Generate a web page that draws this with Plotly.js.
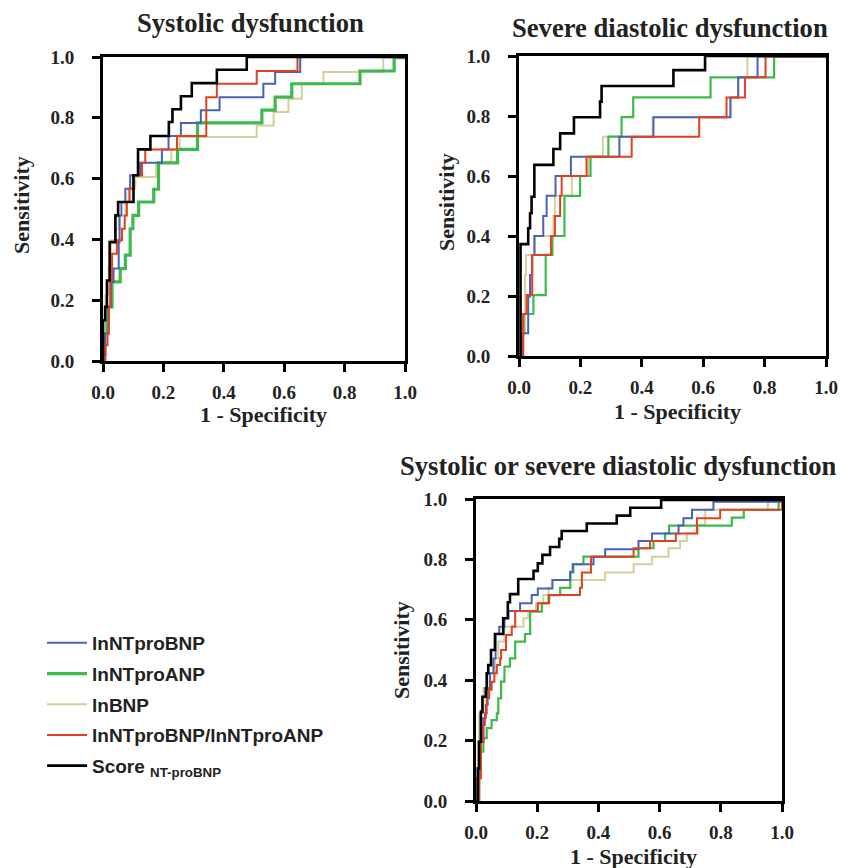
<!DOCTYPE html>
<html>
<head>
<meta charset="utf-8">
<script src="https://cdn.plot.ly/plotly-3.0.1.min.js"></script>
<style>html,body{margin:0;padding:0;background:#fff;}#chart{width:848px;height:868px;}</style>
</head>
<body>
<div id="chart"></div>
<script>
// ---------- Data (1 - specificity, sensitivity) ----------
const seriesNames = ['lnNTproBNP', 'lnNTproANP', 'lnBNP', 'lnNTproBNP/lnNTproANP', 'Score <sub>NT-proBNP</sub>'];
const seriesColors = ['#4a62b8', '#3dba4c', '#d6cf9c', '#e2401f', '#000000'];
const tickVals = [0, 0.2, 0.4, 0.6, 0.8, 1.0];
const tickText = ['0.0', '0.2', '0.4', '0.6', '0.8', '1.0'];
const panelTitles = ['Systolic dysfunction', 'Severe diastolic dysfunction', 'Systolic or severe diastolic dysfunction'];

// Panel 1: Systolic dysfunction
const sysBlueX = [0, 0, 0.008, 0.019, 0.026, 0.035, 0.052, 0.055, 0.061, 0.074, 0.090, 0.123, 0.195, 0.217, 0.258, 0.324, 0.386, 0.531, 0.570, 0.653, 1.0];
const sysBlueY = [0, 0.02, 0.090, 0.178, 0.260, 0.304, 0.391, 0.479, 0.523, 0.567, 0.611, 0.652, 0.696, 0.740, 0.783, 0.825, 0.868, 0.912, 0.951, 1.0, 1.0];
const sysGreenX = [0, 0, 0.004, 0.013, 0.030, 0.057, 0.074, 0.090, 0.099, 0.118, 0.168, 0.184, 0.247, 0.313, 0.526, 0.570, 0.625, 0.851, 0.964, 1.0];
const sysGreenY = [0, 0.02, 0.090, 0.178, 0.260, 0.304, 0.348, 0.435, 0.479, 0.523, 0.565, 0.652, 0.696, 0.783, 0.825, 0.868, 0.912, 0.954, 0.998, 1.0];
const sysTanX = [0, 0.002, 0.008, 0.019, 0.026, 0.041, 0.052, 0.074, 0.085, 0.107, 0.176, 0.226, 0.254, 0.509, 0.565, 0.614, 0.658, 0.730, 0.928, 1.0];
const sysTanY = [0, 0.134, 0.216, 0.309, 0.397, 0.435, 0.479, 0.523, 0.567, 0.605, 0.652, 0.696, 0.737, 0.775, 0.819, 0.863, 0.912, 0.951, 0.998, 1.0];
const sysRedX = [0.008, 0.008, 0.015, 0.019, 0.024, 0.030, 0.046, 0.063, 0.072, 0.079, 0.088, 0.101, 0.129, 0.140, 0.245, 0.342, 0.377, 0.509, 0.644, 1.0];
const sysRedY = [0, 0.052, 0.090, 0.178, 0.265, 0.353, 0.397, 0.435, 0.479, 0.523, 0.567, 0.611, 0.652, 0.696, 0.740, 0.868, 0.912, 0.954, 1.0, 1.0];
const sysBlackX = [0, 0, 0.007, 0.013, 0.022, 0.041, 0.050, 0.101, 0.116, 0.157, 0.218, 0.230, 0.258, 0.294, 0.377, 0.476, 1.0];
const sysBlackY = [0, 0.134, 0.178, 0.265, 0.391, 0.479, 0.523, 0.611, 0.696, 0.740, 0.786, 0.828, 0.871, 0.914, 0.958, 1.0, 1.0];

// Panel 2: Severe diastolic dysfunction
const diaBlueX = [0.005, 0.009, 0.030, 0.036, 0.043, 0.050, 0.079, 0.090, 0.119, 0.169, 0.327, 0.438, 0.689, 0.714, 0.777, 1.0];
const diaBlueY = [0, 0.076, 0.198, 0.270, 0.337, 0.400, 0.467, 0.534, 0.600, 0.664, 0.731, 0.796, 0.862, 0.929, 0.998, 0.998];
const diaGreenX = [0.009, 0.009, 0.014, 0.047, 0.087, 0.109, 0.148, 0.199, 0.233, 0.291, 0.334, 0.372, 0.624, 0.831, 1.0];
const diaGreenY = [0, 0.070, 0.140, 0.203, 0.337, 0.400, 0.534, 0.600, 0.664, 0.731, 0.796, 0.862, 0.929, 0.998, 0.998];
const diaTanX = [0.005, 0.009, 0.020, 0.023, 0.052, 0.112, 0.117, 0.172, 0.226, 0.273, 0.435, 0.687, 0.714, 0.744, 1.0];
const diaTanY = [0, 0.076, 0.270, 0.337, 0.400, 0.467, 0.534, 0.600, 0.664, 0.731, 0.796, 0.862, 0.929, 0.998, 0.998];
const diaRedX = [0.014, 0.014, 0.025, 0.043, 0.104, 0.117, 0.134, 0.139, 0.220, 0.367, 0.587, 0.676, 0.736, 0.803, 1.0];
const diaRedY = [0, 0.140, 0.203, 0.337, 0.400, 0.467, 0.534, 0.600, 0.664, 0.731, 0.796, 0.862, 0.929, 0.998, 0.998];
const diaBlackX = [0.005, 0.005, 0.030, 0.036, 0.041, 0.050, 0.112, 0.134, 0.179, 0.264, 0.269, 0.503, 0.606, 1.0];
const diaBlackY = [0, 0.373, 0.426, 0.476, 0.531, 0.637, 0.690, 0.742, 0.796, 0.848, 0.900, 0.953, 1.0, 1.0];

// Panel 3: Systolic or severe diastolic dysfunction
const allBlueX = [-0.005, -0.005, 0.008, 0.013, 0.024, 0.032, 0.038, 0.046, 0.057, 0.064, 0.076, 0.093, 0.106, 0.144, 0.182, 0.202, 0.250, 0.308, 0.316, 0.384, 0.422, 0.531, 0.575, 0.662, 0.678, 0.706, 0.776, 1.0];
const allBlueY = [0, 0.02, 0.086, 0.196, 0.274, 0.318, 0.373, 0.423, 0.472, 0.553, 0.577, 0.605, 0.629, 0.655, 0.682, 0.704, 0.732, 0.759, 0.784, 0.809, 0.834, 0.861, 0.886, 0.912, 0.936, 0.964, 0.991, 0.991];
const allGreenX = [0, 0, 0.013, 0.024, 0.035, 0.051, 0.068, 0.073, 0.082, 0.093, 0.111, 0.128, 0.160, 0.177, 0.215, 0.237, 0.275, 0.308, 0.318, 0.351, 0.531, 0.580, 0.618, 0.631, 0.836, 0.875, 0.989, 1.0];
const allGreenY = [0, 0.075, 0.163, 0.208, 0.241, 0.268, 0.290, 0.340, 0.395, 0.445, 0.472, 0.528, 0.553, 0.627, 0.655, 0.682, 0.706, 0.757, 0.784, 0.809, 0.837, 0.861, 0.886, 0.912, 0.938, 0.964, 0.991, 0.991];
const allTanX = [0, 0.006, 0.010, 0.024, 0.038, 0.062, 0.073, 0.093, 0.155, 0.171, 0.196, 0.220, 0.237, 0.248, 0.422, 0.515, 0.575, 0.629, 0.667, 0.689, 0.727, 0.749, 0.954, 1.0];
const allTanY = [0, 0.196, 0.290, 0.373, 0.423, 0.472, 0.528, 0.577, 0.605, 0.629, 0.655, 0.682, 0.706, 0.732, 0.757, 0.784, 0.809, 0.837, 0.861, 0.886, 0.914, 0.964, 0.991, 0.991];
const allRedX = [0.008, 0.011, 0.016, 0.024, 0.029, 0.035, 0.043, 0.051, 0.060, 0.068, 0.079, 0.082, 0.098, 0.117, 0.128, 0.202, 0.239, 0.340, 0.346, 0.376, 0.515, 0.569, 0.653, 0.722, 0.798, 1.0];
const allRedY = [0, 0.075, 0.196, 0.252, 0.290, 0.340, 0.368, 0.395, 0.423, 0.450, 0.472, 0.500, 0.550, 0.577, 0.629, 0.655, 0.682, 0.706, 0.757, 0.809, 0.837, 0.861, 0.886, 0.936, 0.964, 0.991];
const allBlackX = [0, 0.006, 0.010, 0.016, 0.021, 0.032, 0.035, 0.040, 0.049, 0.062, 0.089, 0.104, 0.111, 0.138, 0.188, 0.202, 0.217, 0.242, 0.272, 0.280, 0.362, 0.460, 0.504, 0.605, 1.0];
const allBlackY = [0, 0.108, 0.196, 0.296, 0.345, 0.373, 0.423, 0.450, 0.500, 0.553, 0.605, 0.658, 0.685, 0.735, 0.762, 0.787, 0.815, 0.841, 0.868, 0.894, 0.919, 0.945, 0.971, 0.997, 1.0];

// ---------- Build ----------
const W = 848, H = 868;
const px = v => v / W;
const py = v => 1 - v / H;

const panels = [
  {xa: 'x', ya: 'y', data: [[sysBlueX, sysBlueY], [sysGreenX, sysGreenY], [sysTanX, sysTanY], [sysRedX, sysRedY], [sysBlackX, sysBlackY]], greenW: 3.2},
  {xa: 'x2', ya: 'y2', data: [[diaBlueX, diaBlueY], [diaGreenX, diaGreenY], [diaTanX, diaTanY], [diaRedX, diaRedY], [diaBlackX, diaBlackY]], greenW: 2.2},
  {xa: 'x3', ya: 'y3', data: [[allBlueX, allBlueY], [allGreenX, allGreenY], [allTanX, allTanY], [allRedX, allRedY], [allBlackX, allBlackY]], greenW: 2.2}
];

const traces = [];
const drawOrder = [2, 1, 0, 3, 4];
panels.forEach((p, pi) => {
  drawOrder.forEach(si => {
    const d = p.data[si];
    let w = 2;
    if (si === 4) w = 2.6;
    if (si === 1) w = p.greenW;
    traces.push({
      type: 'scatter', mode: 'lines',
      x: d[0], y: d[1], xaxis: p.xa, yaxis: p.ya,
      line: {color: seriesColors[si], width: w, shape: 'hv'},
      name: seriesNames[si],
      legendgroup: 'g' + si,
      legendrank: si + 1,
      showlegend: pi === 0,
      hoverinfo: 'skip'
    });
  });
});

const tickFont = {family: 'Liberation Serif', size: 19, color: '#222', weight: 'bold'};
function xAxis(dom, anchor) {
  return {domain: dom, anchor: anchor, range: [0, 1], tickvals: tickVals, ticktext: tickText,
    showgrid: false, zeroline: false, showline: true, linewidth: 3, linecolor: '#000', mirror: true,
    ticks: 'outside', ticklen: 8, tickwidth: 3, tickcolor: '#000', tickfont: tickFont, ticklabelstandoff: 4, fixedrange: true};
}
function yAxis(dom, anchor) {
  return {domain: dom, anchor: anchor, range: [0, 1], tickvals: tickVals, ticktext: tickText,
    showgrid: false, zeroline: false, showline: true, linewidth: 3, linecolor: '#000', mirror: true,
    ticks: 'outside', ticklen: 8, tickwidth: 3, tickcolor: '#000', tickfont: tickFont, ticklabelstandoff: 14, fixedrange: true};
}

const titleFont = {family: 'Liberation Serif', size: 26.6, color: '#222', weight: 'bold'};
const axTitleFont = {family: 'Liberation Serif', size: 22, color: '#222', weight: 'bold'};
const ann = (text, x, y, font, angle) => ({text: text, x: px(x), y: py(y), xref: 'paper', yref: 'paper',
  xanchor: 'center', yanchor: 'middle', showarrow: false, font: font, textangle: angle || 0});

const layout = {
  width: W, height: H,
  margin: {l: 0, r: 0, t: 0, b: 0},
  paper_bgcolor: '#fff', plot_bgcolor: '#fff',
  showlegend: true,
  legend: {x: px(42), y: py(624), xanchor: 'left', yanchor: 'top', traceorder: 'grouped', tracegroupgap: 3,
    font: {family: 'Liberation Sans', size: 19, color: '#222', weight: 'bold'}, bgcolor: 'rgba(0,0,0,0)', itemwidth: 40},
  xaxis: xAxis([px(103), px(405)], 'y'),
  yaxis: yAxis([py(361), py(57)], 'x'),
  xaxis2: xAxis([px(519), px(826)], 'y2'),
  yaxis2: yAxis([py(356), py(56)], 'x2'),
  xaxis3: xAxis([px(476), px(782)], 'y3'),
  yaxis3: yAxis([py(801), py(499)], 'x3'),
  annotations: [
    ann(panelTitles[0], 250, 23, titleFont),
    ann(panelTitles[1], 670, 28, titleFont),
    ann(panelTitles[2], 618, 466, titleFont),
    ann('1 - Specificity', 263, 414, axTitleFont),
    ann('1 - Specificity', 677, 411, axTitleFont),
    ann('1 - Specificity', 633, 856, axTitleFont),
    ann('Sensitivity', 22, 205, axTitleFont, -90),
    ann('Sensitivity', 446, 202, axTitleFont, -90),
    ann('Sensitivity', 401, 650, axTitleFont, -90)
  ]
};

Plotly.newPlot('chart', traces, layout, {displayModeBar: false, staticPlot: true});
</script>
</body>
</html>
